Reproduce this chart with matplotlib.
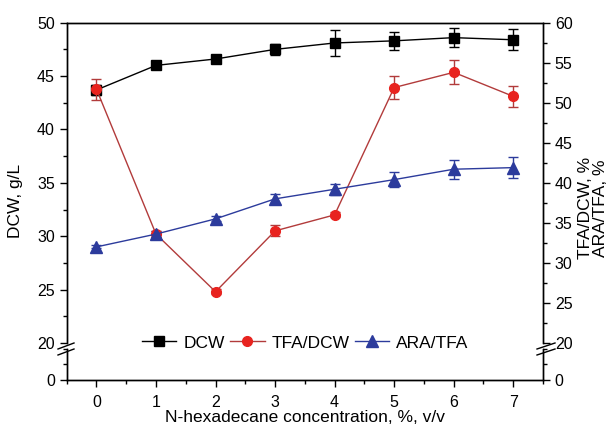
import numpy as np
import matplotlib
matplotlib.use("Agg")
import matplotlib.pyplot as plt
from matplotlib.lines import Line2D
from matplotlib.ticker import MultipleLocator

plt.rcParams["font.family"] = ["Liberation Sans", "DejaVu Sans"]

# n-hexadecane concentration, %, v/v
conc = [0, 1, 2, 3, 4, 5, 6, 7]
# DCW, g/L (left axis)
dcw = [43.7, 46.0, 46.6, 47.5, 48.1, 48.3, 48.6, 48.4]
dcw_err = [0.5, 0.15, 0.3, 0.5, 1.2, 0.85, 0.9, 1.0]
# TFA/DCW, % (right axis)
tfa = [51.7, 33.6, 26.4, 34.0, 36.0, 51.9, 53.8, 50.8]
tfa_err = [1.3, 0.4, 0.3, 0.7, 0.3, 1.4, 1.5, 1.3]
# ARA/TFA, % (right axis)
ara = [32.0, 33.6, 35.5, 38.0, 39.2, 40.4, 41.7, 41.9]
ara_err = [0.2, 0.4, 0.3, 0.55, 0.7, 0.9, 1.2, 1.3]

RED_M = "#e8231f"
RED_L = "#b23b3b"
BLUE = "#2c3b9c"

fig = plt.figure(figsize=(6.14, 4.33), dpi=100)
L, W = 0.1086, 0.7758
ax = fig.add_axes([L, 0.2079, W, 0.7397])      # upper segment
axb = fig.add_axes([L, 0.1224, W, 0.0716])     # lower segment
ax2 = ax.twinx()
axb2 = axb.twinx()

ax.errorbar(conc, dcw, yerr=dcw_err, color="black", marker="s", ms=6.5, lw=1,
            capsize=3.5, elinewidth=1, capthick=1, zorder=3)
ax2.errorbar(conc, tfa, yerr=tfa_err, color=RED_L, marker="o", ms=7, mfc=RED_M,
             mec=RED_M, lw=1, capsize=3.5, elinewidth=1, capthick=1)
ax2.errorbar(conc, ara, yerr=ara_err, color=BLUE, marker="^", ms=8, lw=1,
             capsize=3.5, elinewidth=1, capthick=1)

for a in (ax, ax2, axb, axb2):
    a.set_xlim(-0.5, 7.5)
    a.tick_params(which="both", direction="out", labelsize=11.5, width=1)
    a.tick_params(which="major", length=5)
    a.tick_params(which="minor", length=3)
    for s in a.spines.values():
        s.set_linewidth(1)

ax.set_ylim(20, 50)
ax2.set_ylim(20, 60)
for a in (ax, ax2):
    a.yaxis.set_major_locator(MultipleLocator(5))
    a.yaxis.set_minor_locator(MultipleLocator(2.5))
    a.spines["bottom"].set_visible(False)
    a.tick_params(axis="x", which="both", bottom=False, labelbottom=False)

for a in (axb, axb2):
    a.set_ylim(0, 10)
    a.set_yticks([0])
    a.yaxis.set_minor_locator(MultipleLocator(5))
    a.spines["top"].set_visible(False)
axb.set_xticks(conc)
axb.xaxis.set_minor_locator(MultipleLocator(0.5))
axb.tick_params(axis="x", pad=6)
axb.patch.set_alpha(0)

# break marks
for xs in ((58, 74), (537, 555)):
    for y0 in (346, 352):
        fig.add_artist(Line2D([xs[0] / 614, xs[1] / 614],
                              [1 - (y0 + 3) / 433, 1 - (y0 - 3) / 433],
                              color="black", lw=1))

fig.text(0.026, 0.535, "DCW, g/L", rotation=90, ha="center", va="center", fontsize=12.5)
fig.text(0.966, 0.52, "TFA/DCW, %\nARA/TFA, %", rotation=90, ha="center",
         va="center", fontsize=12.5, linespacing=1.0)
fig.text(0.496, 0.035, "N-hexadecane concentration, %, v/v", ha="center",
         va="center", fontsize=12.5)

handles = [
    Line2D([], [], color="black", marker="s", ms=6.5, lw=1),
    Line2D([], [], color=RED_L, marker="o", ms=7, mfc=RED_M, mec=RED_M, lw=1),
    Line2D([], [], color=BLUE, marker="^", ms=8, lw=1),
]
fig.legend(handles, ["DCW", "TFA/DCW", "ARA/TFA"], loc="center",
           bbox_to_anchor=(0.497, 0.208), ncol=3, frameon=False, fontsize=12.5,
           handlelength=2.0, handletextpad=0.4, columnspacing=0.3)

fig.savefig("out.png", dpi=100)
